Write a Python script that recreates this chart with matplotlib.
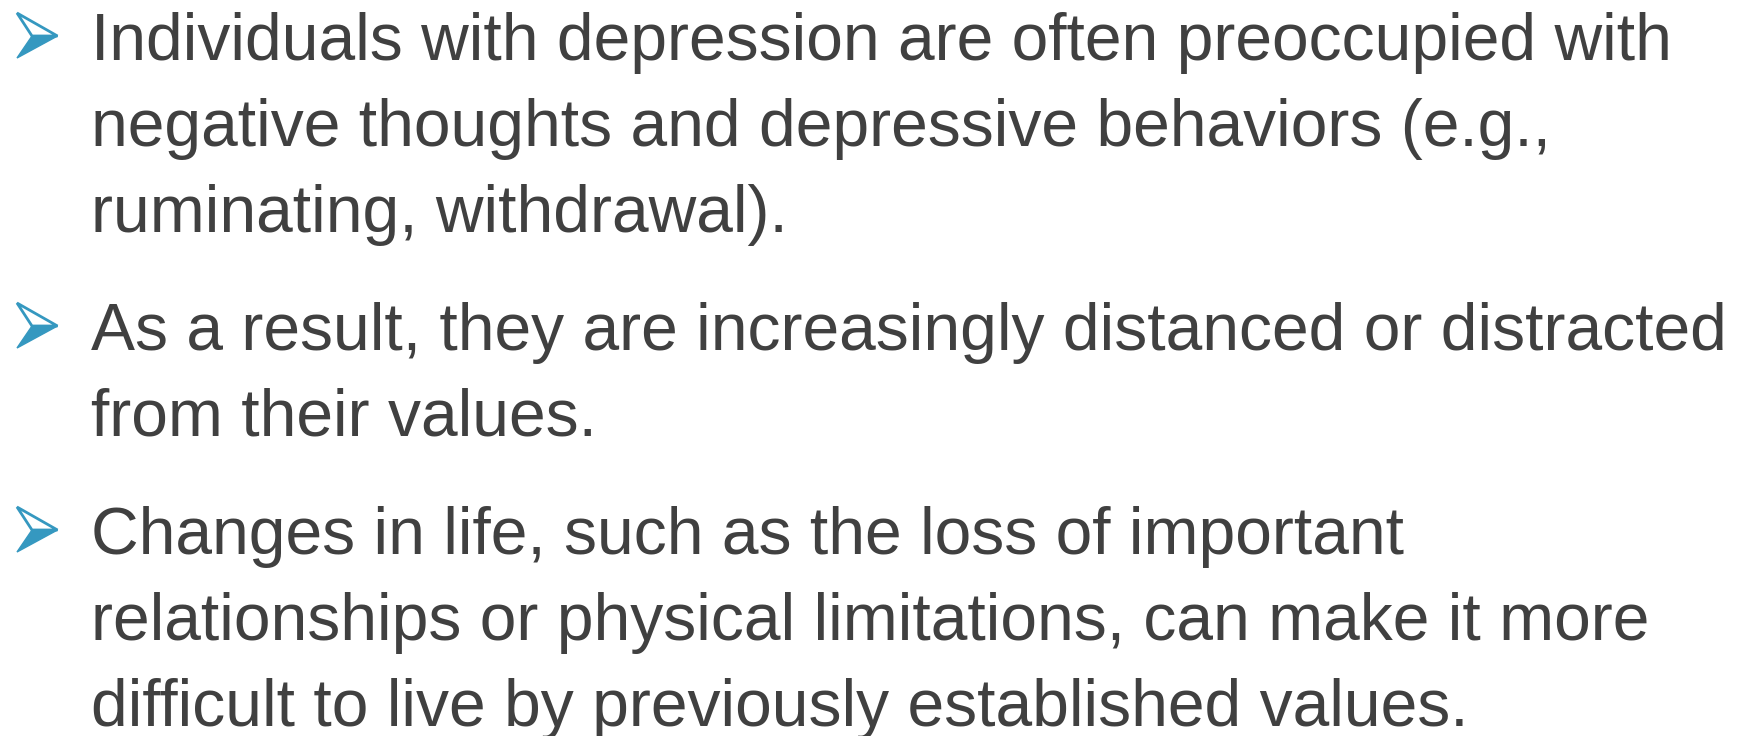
import matplotlib
matplotlib.use("Agg")
import matplotlib.pyplot as plt
from matplotlib.patches import Polygon

bullets = [
    ["Individuals with depression are often preoccupied with",
     "negative thoughts and depressive behaviors (e.g.,",
     "ruminating, withdrawal)."],
    ["As a result, they are increasingly distanced or distracted",
     "from their values."],
    ["Changes in life, such as the loss of important",
     "relationships or physical limitations, can make it more",
     "difficult to live by previously established values."],
]

W, H = 1741, 736
fig = plt.figure(figsize=(W / 100, H / 100), dpi=100)
ax = fig.add_axes([0, 0, 1, 1])
ax.set_xlim(0, W)
ax.set_ylim(H, 0)
ax.axis("off")

text_color = "#404040"
arrow_color = "#3598C0"
fontsize = 47.5
line_gap = 86
bullet_gap = 118
text_x = 91
y = 60

for lines in bullets:
    cy = y - 24
    tl = (17, cy - 23)
    tip = (57.5, cy)
    bl = (17, cy + 22)
    notch = (32, cy)
    ax.add_patch(Polygon([notch, tip, bl], closed=True, facecolor=arrow_color,
                         edgecolor=arrow_color, lw=1.0))
    ax.add_patch(Polygon([tl, tip, notch], closed=True, facecolor="white",
                         edgecolor=arrow_color, lw=2.0, joinstyle="miter"))
    for i, line in enumerate(lines):
        ax.text(text_x, y, line, fontsize=fontsize, color=text_color,
                family="Liberation Sans", va="baseline", ha="left")
        if i < len(lines) - 1:
            y += line_gap
    y += bullet_gap

fig.savefig("out.png", dpi=100, facecolor="white")
